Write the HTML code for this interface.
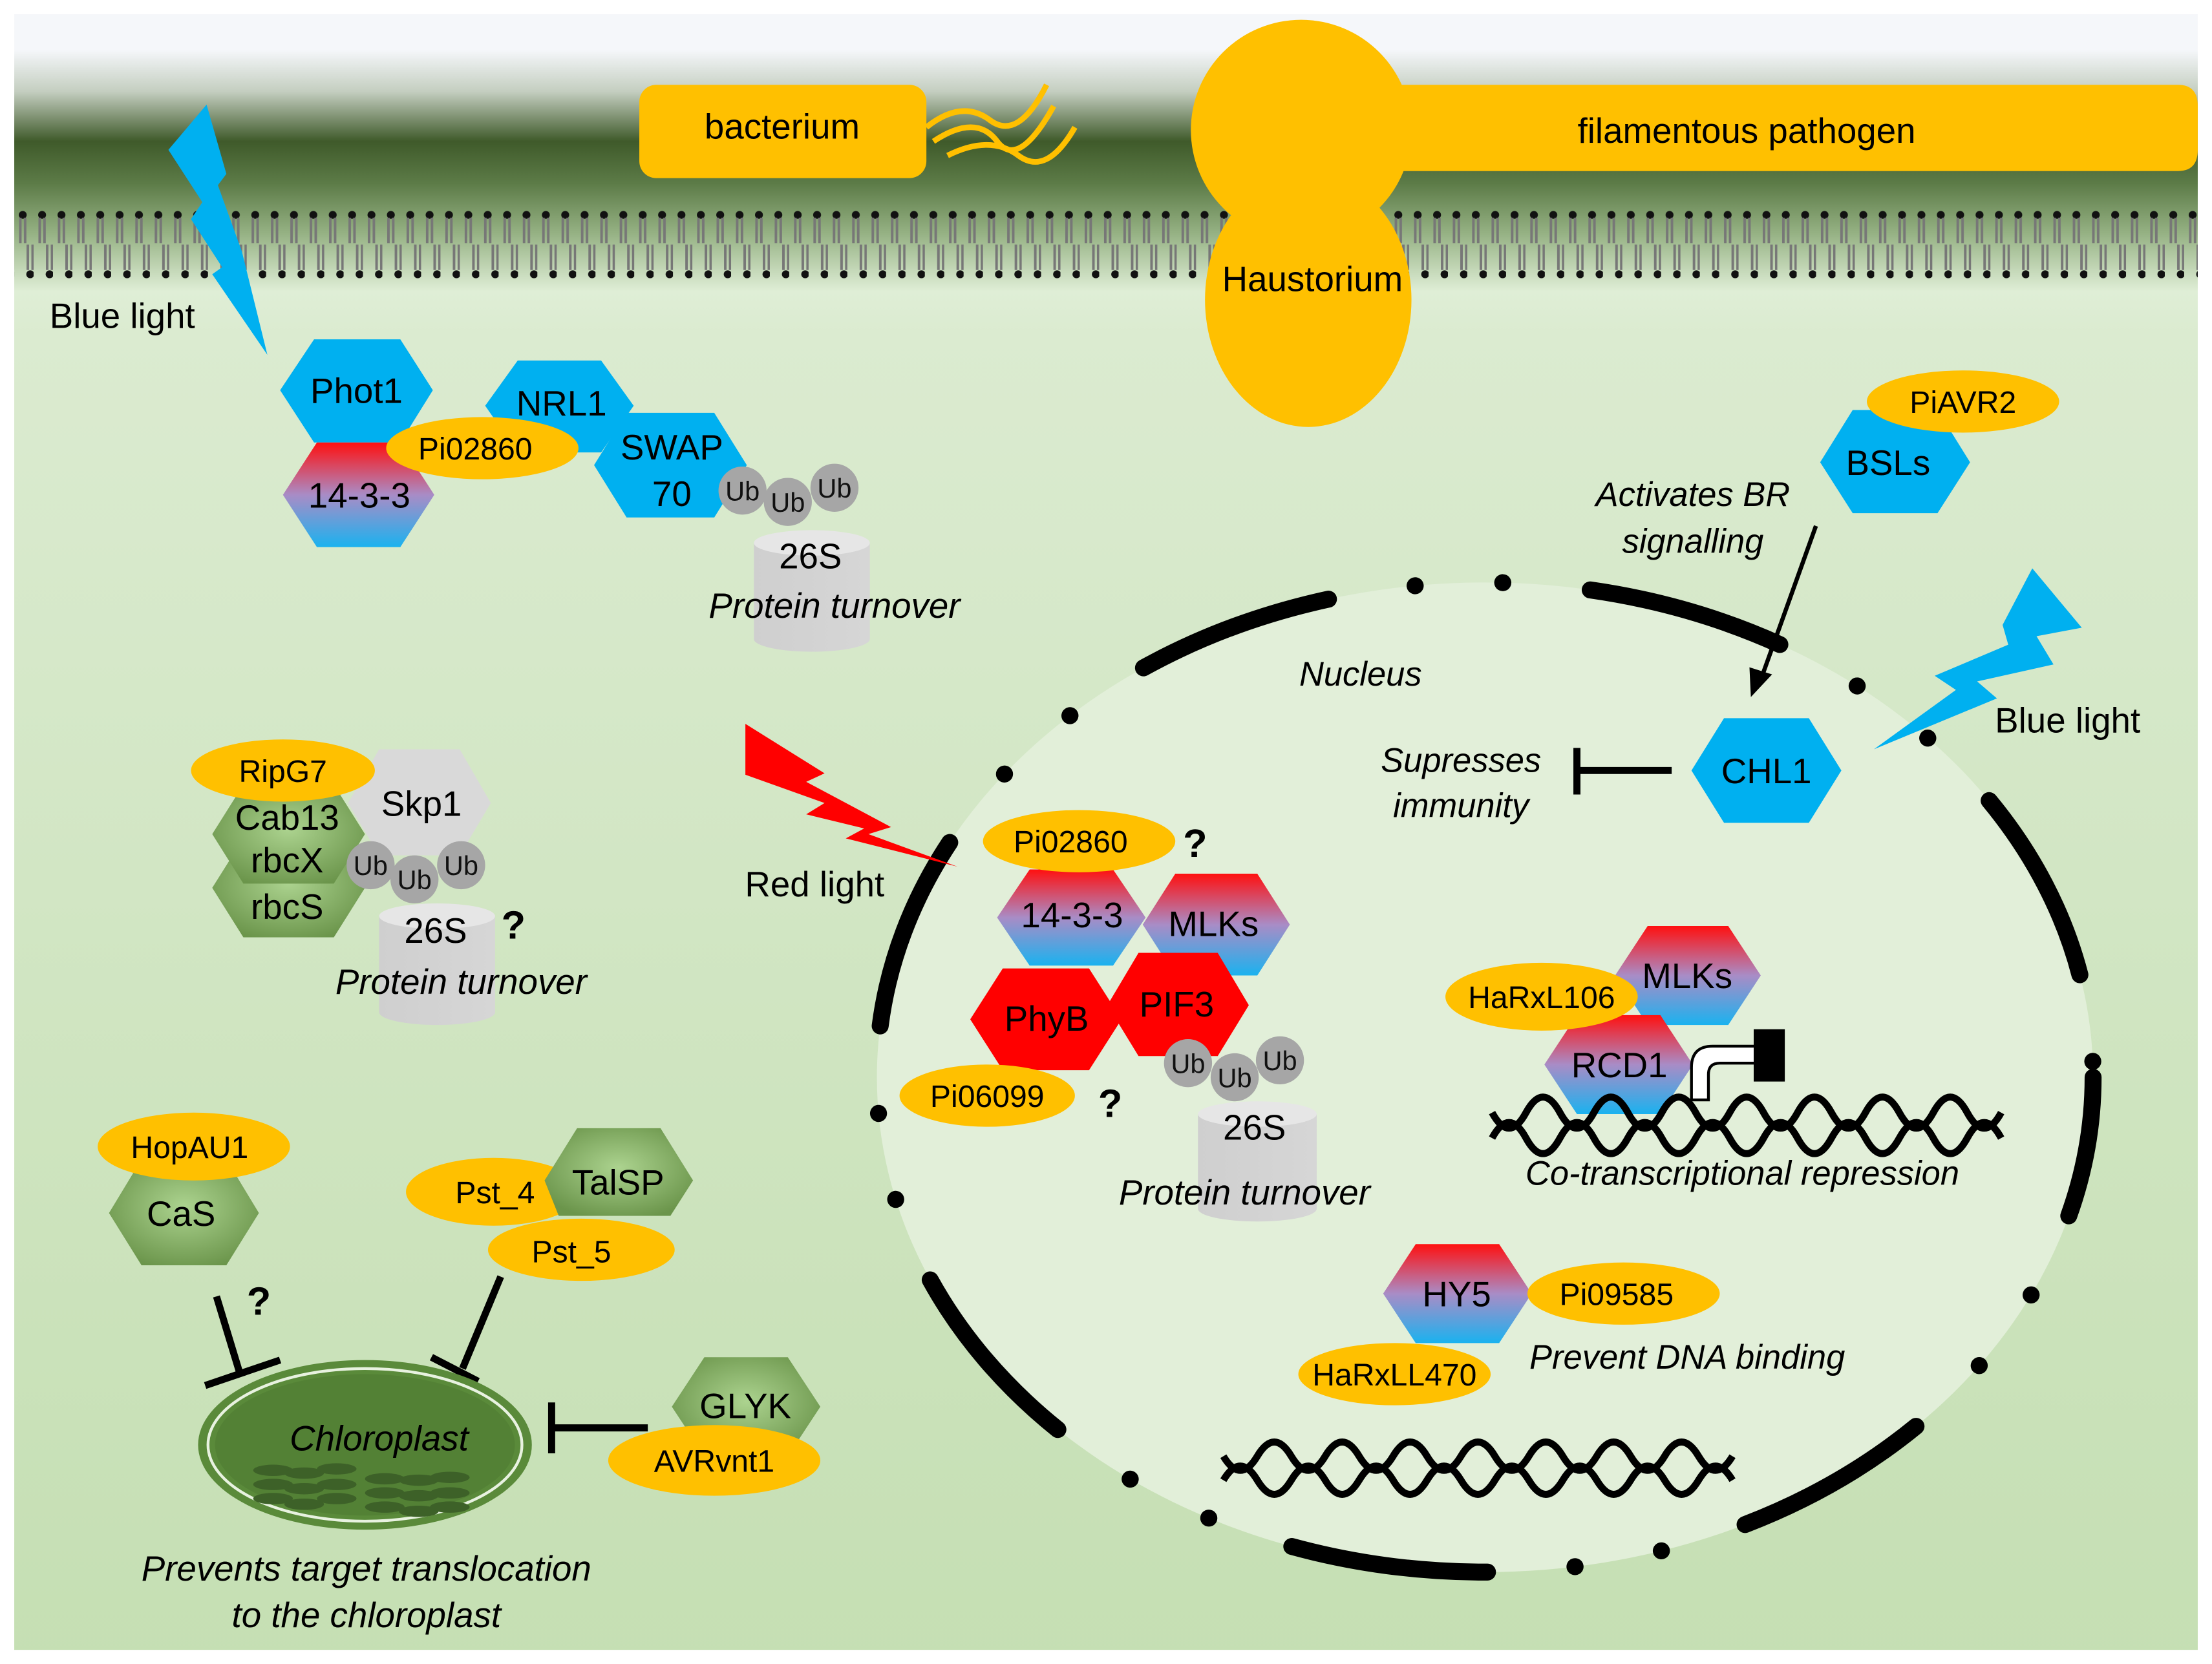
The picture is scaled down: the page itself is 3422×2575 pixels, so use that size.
<!DOCTYPE html>
<html><head><meta charset="utf-8"><style>html,body{margin:0;padding:0;background:#fff}svg{display:block}</style></head>
<body>
<svg width="3422" height="2575" viewBox="0 0 1564 1177" xmlns="http://www.w3.org/2000/svg" font-family="Liberation Sans, Arial, sans-serif">
<defs>
<linearGradient id="bg" x1="0" y1="0" x2="0" y2="1177" gradientUnits="userSpaceOnUse">
<stop offset="0" stop-color="#f5f7fa"/><stop offset="0.03" stop-color="#f5f7fa"/>
<stop offset="0.055" stop-color="#c4cec0"/><stop offset="0.085" stop-color="#3f5a2a"/>
<stop offset="0.11" stop-color="#5c7b47"/><stop offset="0.14" stop-color="#95b183"/>
<stop offset="0.175" stop-color="#dfeed6"/><stop offset="0.2" stop-color="#dbebd0"/>
<stop offset="1" stop-color="#c5dfb3"/></linearGradient>
<linearGradient id="rb" x1="0" y1="0" x2="0" y2="1"><stop offset="0" stop-color="#ff1010"/><stop offset="0.5" stop-color="#a98cc6"/><stop offset="1" stop-color="#1ab2ef"/></linearGradient>
<radialGradient id="gh" cx="0.5" cy="0.45" r="0.6"><stop offset="0" stop-color="#acd38f"/><stop offset="1" stop-color="#6b954b"/></radialGradient>
<linearGradient id="cyl" x1="0" y1="0" x2="1" y2="0"><stop offset="0" stop-color="#cfcfcf"/><stop offset="1" stop-color="#d6d6d6"/></linearGradient>
<pattern id="mem" x="10" y="145" width="13.7" height="55" patternUnits="userSpaceOnUse">
<circle cx="6" cy="7" r="2.8" fill="#111"/>
<path d="M4.3 9V27M7.7 9V27" stroke="#777" stroke-width="1.8" fill="none"/>
<path d="M9.6 28V46M13 28V46" stroke="#777" stroke-width="1.8" fill="none"/>
<circle cx="11.3" cy="49" r="2.8" fill="#111"/>
</pattern>
<g id="ub"><circle r="17" fill="#a6a6a6"/><text y="7" text-anchor="middle" font-size="19" fill="#111">Ub</text></g>
</defs>
<rect width="1564" height="1177" fill="#fff"/>
<rect x="10" y="10" width="1544" height="1157" fill="url(#bg)"/>
<rect x="10" y="145" width="1544" height="55" fill="url(#mem)"/>

<!-- pathogens -->
<rect x="452" y="60" width="203" height="66" rx="12" fill="#ffc000"/>
<text x="553" y="98" text-anchor="middle" font-size="25">bacterium</text>
<path d="M655 90 Q680 70 700 85 T740 60 M660 100 Q690 80 705 100 T745 75 M670 110 Q700 95 720 110 T760 90" stroke="#ffc000" stroke-width="4" fill="none"/>
<circle cx="920" cy="92" r="78" fill="#ffc000"/>
<path d="M980 60 H1540 Q1554 60 1554 75 V106 Q1554 121 1540 121 H980 Z" fill="#ffc000"/>
<text x="1235" y="101" text-anchor="middle" font-size="25">filamentous pathogen</text>
<ellipse cx="925" cy="212" rx="73" ry="90" fill="#ffc000"/>
<text x="928" y="206" text-anchor="middle" font-size="25">Haustorium</text>

<!-- nucleus -->
<ellipse cx="1050" cy="762" rx="430" ry="350" fill="#e2efd9"/>
<ellipse cx="1050" cy="762" rx="430" ry="350" fill="none" stroke="#000" stroke-width="12" stroke-linecap="round" stroke-dasharray="140 62 0.1 62 0.1 62" stroke-dashoffset="40"/>
<text x="962" y="485" text-anchor="middle" font-size="24" font-style="italic">Nucleus</text>

<!-- blue light left -->
<polygon points="146,74 119,106 143,143 135,155 157,189 150,194 189,251 171,178 154,131 160,123" fill="#00b0f0"/>
<text x="35" y="232" font-size="25">Blue light</text>

<!-- Phot1 complex -->
<polygon points="198,276 222,240 283,240 306,276 283,313 222,313" fill="#00b0f0"/>
<text x="252" y="285" text-anchor="middle" font-size="25">Phot1</text>
<polygon points="200,350 224,313 283,313 307,350 283,387 224,387" fill="url(#rb)"/>
<text x="254" y="359" text-anchor="middle" font-size="25">14-3-3</text>
<polygon points="343,287 366,255 425,255 448,287 425,320 366,320" fill="#00b0f0"/>
<polygon points="420,329 443,292 505,292 528,329 505,366 443,366" fill="#00b0f0"/>
<text x="397" y="294" text-anchor="middle" font-size="25">NRL1</text>
<text x="475" y="325" text-anchor="middle" font-size="25">SWAP</text>
<text x="475" y="358" text-anchor="middle" font-size="25">70</text>
<ellipse cx="341" cy="317" rx="68" ry="22" fill="#ffc000"/>
<text x="336" y="325" text-anchor="middle" font-size="22">Pi02860</text>
<path d="M533 384 V452 A41 9 0 0 0 615 452 V384 Z" fill="url(#cyl)"/><ellipse cx="574" cy="384" rx="41" ry="9" fill="#e6e6e6"/>
<use href="#ub" x="525" y="347"/><use href="#ub" x="557" y="355"/><use href="#ub" x="590" y="345"/>
<text x="573" y="402" text-anchor="middle" font-size="25">26S</text>
<text x="590" y="437" text-anchor="middle" font-size="25" font-style="italic">Protein turnover</text>

<!-- right top -->
<polygon points="1287,327 1310,290 1370,290 1393,327 1370,363 1310,363" fill="#00b0f0"/>
<ellipse cx="1388" cy="284" rx="68" ry="22" fill="#ffc000"/>
<text x="1388" y="292" text-anchor="middle" font-size="22">PiAVR2</text>
<text x="1335" y="336" text-anchor="middle" font-size="25">BSLs</text>
<text x="1197" y="358" text-anchor="middle" font-size="24" font-style="italic">Activates BR</text>
<text x="1197" y="391" text-anchor="middle" font-size="24" font-style="italic">signalling</text>
<line x1="1284" y1="372" x2="1246" y2="478" stroke="#000" stroke-width="3"/>
<polygon points="1238,493 1237,472 1253,477" fill="#000"/>
<polygon points="1437,402 1472,444 1440,450 1452,470 1398,482 1412,494 1325,530 1383,488 1368,478 1420,456 1416,442" fill="#00b0f0"/>
<text x="1462" y="518" text-anchor="middle" font-size="25">Blue light</text>
<polygon points="1196,545 1219,508 1279,508 1302,545 1279,582 1219,582" fill="#00b0f0"/>
<text x="1249" y="554" text-anchor="middle" font-size="25">CHL1</text>
<line x1="1182" y1="545" x2="1115" y2="545" stroke="#000" stroke-width="5"/>
<line x1="1115" y1="529" x2="1115" y2="562" stroke="#000" stroke-width="5"/>
<text x="1033" y="546" text-anchor="middle" font-size="24" font-style="italic">Supresses</text>
<text x="1033" y="578" text-anchor="middle" font-size="24" font-style="italic">immunity</text>

<!-- red light -->
<polygon points="527,512 583,547 570,553 630,585 614,590 677,613 598,593 611,586 570,576 583,568 527,548" fill="#ff0000"/>
<text x="576" y="634" text-anchor="middle" font-size="25">Red light</text>

<!-- nucleus left complex -->
<polygon points="705,649 728,615 787,615 810,649 787,683 728,683" fill="url(#rb)"/>
<polygon points="808,654 831,618 889,618 912,654 889,690 831,690" fill="url(#rb)"/>
<polygon points="686,721 709,685 770,685 793,721 770,757 709,757" fill="#ff0000"/>
<polygon points="783,711 805,674 861,674 883,711 861,747 805,747" fill="#ff0000"/>
<ellipse cx="763" cy="595" rx="68" ry="22" fill="#ffc000"/>
<text x="757" y="603" text-anchor="middle" font-size="22">Pi02860</text>
<text x="845" y="606" text-anchor="middle" font-size="28" font-weight="bold">?</text>
<text x="758" y="656" text-anchor="middle" font-size="25">14-3-3</text>
<text x="858" y="662" text-anchor="middle" font-size="25">MLKs</text>
<text x="740" y="729" text-anchor="middle" font-size="25">PhyB</text>
<text x="832" y="719" text-anchor="middle" font-size="25">PIF3</text>
<ellipse cx="698" cy="775" rx="62" ry="22" fill="#ffc000"/>
<text x="698" y="783" text-anchor="middle" font-size="22">Pi06099</text>
<text x="785" y="790" text-anchor="middle" font-size="28" font-weight="bold">?</text>
<path d="M847 788 V855 A42 9 0 0 0 931 855 V788 Z" fill="url(#cyl)"/><ellipse cx="889" cy="788" rx="42" ry="9" fill="#e6e6e6"/>
<use href="#ub" x="840" y="752"/><use href="#ub" x="873" y="762"/><use href="#ub" x="905" y="750"/>
<text x="887" y="806" text-anchor="middle" font-size="25">26S</text>
<text x="880" y="852" text-anchor="middle" font-size="25" font-style="italic">Protein turnover</text>

<!-- RCD1 -->
<polygon points="1142,690 1165,655 1222,655 1245,690 1222,725 1165,725" fill="url(#rb)"/>
<polygon points="1092,753 1115,718 1174,718 1197,753 1174,788 1115,788" fill="url(#rb)"/>
<ellipse cx="1090" cy="705" rx="68" ry="24" fill="#ffc000"/>
<text x="1090" y="713" text-anchor="middle" font-size="22">HaRxL106</text>
<text x="1193" y="699" text-anchor="middle" font-size="25">MLKs</text>
<text x="1145" y="762" text-anchor="middle" font-size="25">RCD1</text>
<path d="M1196 778 V755 Q1196 740 1211 740 H1241 V752 H1216 Q1208 752 1208 760 V778 Z" fill="#fff" stroke="#000" stroke-width="2"/>
<rect x="1240" y="728" width="22" height="37" fill="#000"/>
<g stroke="#000" stroke-width="5" fill="none">
<path d="M1055 787 q12 22 24 0 t24 0 t24 0 t24 0 t24 0 t24 0 t24 0 t24 0 t24 0 t24 0 t24 0 t24 0 t24 0 t24 0 t24 0"/>
<path d="M1055 805 q12 -22 24 0 t24 0 t24 0 t24 0 t24 0 t24 0 t24 0 t24 0 t24 0 t24 0 t24 0 t24 0 t24 0 t24 0 t24 0"/>
<path d="M865 1030 q12 20 24 0 t24 0 t24 0 t24 0 t24 0 t24 0 t24 0 t24 0 t24 0 t24 0 t24 0 t24 0 t24 0 t24 0 t24 0"/>
<path d="M865 1047 q12 -20 24 0 t24 0 t24 0 t24 0 t24 0 t24 0 t24 0 t24 0 t24 0 t24 0 t24 0 t24 0 t24 0 t24 0 t24 0"/>
</g>
<text x="1232" y="838" text-anchor="middle" font-size="24" font-style="italic">Co-transcriptional repression</text>

<!-- HY5 -->
<polygon points="978,915 1001,880 1060,880 1083,915 1060,950 1001,950" fill="url(#rb)"/>
<text x="1030" y="924" text-anchor="middle" font-size="25">HY5</text>
<ellipse cx="1148" cy="915" rx="68" ry="22" fill="#ffc000"/>
<text x="1143" y="923" text-anchor="middle" font-size="22">Pi09585</text>
<ellipse cx="986" cy="972" rx="68" ry="22" fill="#ffc000"/>
<text x="986" y="980" text-anchor="middle" font-size="22">HaRxLL470</text>
<text x="1193" y="968" text-anchor="middle" font-size="24" font-style="italic">Prevent DNA binding</text>

<!-- left middle -->
<polygon points="150,628 172,593 236,593 258,628 236,663 172,663" fill="url(#gh)"/>
<polygon points="150,590 172,555 236,555 258,590 236,625 172,625" fill="url(#gh)"/>
<polygon points="246,568 268,530 325,530 347,568 325,605 268,605" fill="#d9d9d9"/>
<ellipse cx="200" cy="545" rx="65" ry="22" fill="#ffc000"/>
<text x="200" y="553" text-anchor="middle" font-size="22">RipG7</text>
<text x="298" y="577" text-anchor="middle" font-size="25">Skp1</text>
<text x="203" y="587" text-anchor="middle" font-size="25">Cab13</text>
<text x="203" y="617" text-anchor="middle" font-size="25">rbcX</text>
<text x="203" y="650" text-anchor="middle" font-size="25">rbcS</text>
<path d="M268 648 V716 A41 9 0 0 0 350 716 V648 Z" fill="url(#cyl)"/><ellipse cx="309" cy="648" rx="41" ry="9" fill="#e6e6e6"/>
<use href="#ub" x="262" y="612"/><use href="#ub" x="293" y="622"/><use href="#ub" x="326" y="612"/>
<text x="308" y="667" text-anchor="middle" font-size="25">26S</text>
<text x="363" y="664" text-anchor="middle" font-size="28" font-weight="bold">?</text>
<text x="326" y="703" text-anchor="middle" font-size="25" font-style="italic">Protein turnover</text>

<!-- chloroplast area -->
<polygon points="77,858 100,820 160,820 183,858 160,895 100,895" fill="url(#gh)"/>
<ellipse cx="137" cy="811" rx="68" ry="24" fill="#ffc000"/>
<text x="134" y="819" text-anchor="middle" font-size="22">HopAU1</text>
<text x="128" y="867" text-anchor="middle" font-size="25">CaS</text>
<ellipse cx="349" cy="843" rx="62" ry="24" fill="#ffc000"/>
<ellipse cx="411" cy="884" rx="66" ry="22" fill="#ffc000"/>
<polygon points="385,835 408,798 467,798 490,835 474,860 395,860" fill="url(#gh)"/>
<text x="350" y="851" text-anchor="middle" font-size="22">Pst_4</text>
<text x="437" y="845" text-anchor="middle" font-size="25">TalSP</text>
<text x="404" y="893" text-anchor="middle" font-size="22">Pst_5</text>
<text x="183" y="930" text-anchor="middle" font-size="28" font-weight="bold">?</text>
<g stroke="#000" stroke-width="5">
<line x1="153" y1="917" x2="170" y2="973"/><line x1="145" y1="980" x2="198" y2="962"/>
<line x1="354" y1="903" x2="327" y2="968"/><line x1="305" y1="960" x2="338" y2="977"/>
<line x1="458" y1="1010" x2="390" y2="1010"/><line x1="390" y1="992" x2="390" y2="1028"/>
</g>
<ellipse cx="258" cy="1022" rx="118" ry="60" fill="#5a8a3a"/>
<ellipse cx="258" cy="1022" rx="111" ry="54" fill="none" stroke="#e8f2e0" stroke-width="2"/>
<ellipse cx="258" cy="1022" rx="106" ry="50" fill="#538135"/>
<g fill="#3d6128">
<ellipse cx="193" cy="1040" rx="14" ry="4"/><ellipse cx="215" cy="1042" rx="14" ry="4"/><ellipse cx="238" cy="1039" rx="14" ry="4"/>
<ellipse cx="193" cy="1050" rx="14" ry="4"/><ellipse cx="215" cy="1053" rx="14" ry="4"/><ellipse cx="238" cy="1050" rx="14" ry="4"/>
<ellipse cx="193" cy="1060" rx="14" ry="4"/><ellipse cx="215" cy="1064" rx="14" ry="4"/><ellipse cx="238" cy="1060" rx="14" ry="4"/>
<ellipse cx="272" cy="1046" rx="14" ry="4"/><ellipse cx="296" cy="1047" rx="14" ry="4"/><ellipse cx="318" cy="1045" rx="14" ry="4"/>
<ellipse cx="272" cy="1056" rx="14" ry="4"/><ellipse cx="296" cy="1058" rx="14" ry="4"/><ellipse cx="318" cy="1056" rx="14" ry="4"/>
<ellipse cx="272" cy="1066" rx="14" ry="4"/><ellipse cx="296" cy="1069" rx="14" ry="4"/><ellipse cx="318" cy="1066" rx="14" ry="4"/>
</g>
<text x="268" y="1026" text-anchor="middle" font-size="25" font-style="italic">Chloroplast</text>
<polygon points="475,995 498,960 557,960 580,995 557,1030 498,1030" fill="url(#gh)"/>
<ellipse cx="505" cy="1033" rx="75" ry="25" fill="#ffc000"/>
<text x="527" y="1003" text-anchor="middle" font-size="25">GLYK</text>
<text x="505" y="1041" text-anchor="middle" font-size="22">AVRvnt1</text>
<text x="259" y="1118" text-anchor="middle" font-size="25" font-style="italic">Prevents target translocation</text>
<text x="259" y="1151" text-anchor="middle" font-size="25" font-style="italic">to the chloroplast</text>
</svg>
</body></html>
